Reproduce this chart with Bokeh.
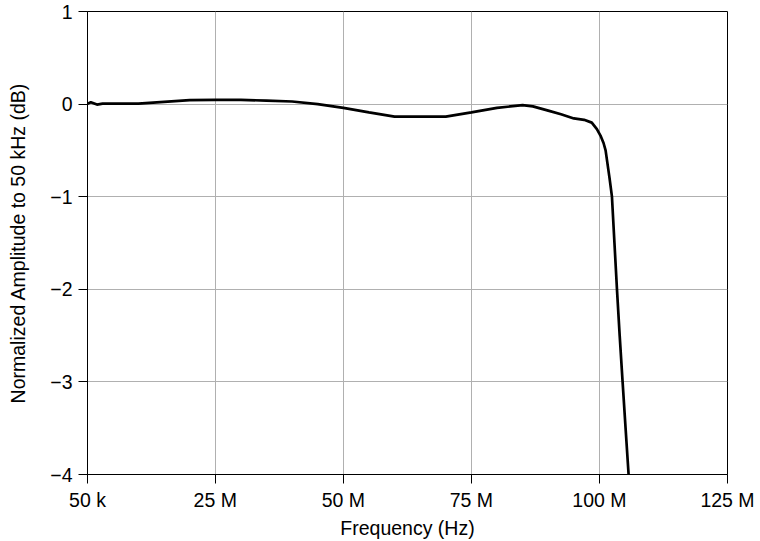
from bokeh.plotting import figure
from bokeh.models import Range1d, FixedTicker
from bokeh.embed import file_html
from bokeh.resources import INLINE

# Frequency in MHz, normalized amplitude in dB
freq_mhz = [0.05, 0.7, 1.9, 3.0, 5.0, 10.0, 15.0, 20.0, 25.0, 30.0, 35.0, 40.0,
            45.0, 50.0, 55.0, 60.0, 65.0, 70.0, 75.0, 80.0, 85.0, 87.0, 90.0,
            92.5, 95.0, 97.0, 98.5, 99.5, 100.2, 100.8, 101.2, 101.97, 102.44,
            102.93, 103.42, 103.95, 104.52, 105.1, 105.69]
amp_db = [0.005, 0.02, -0.005, 0.005, 0.005, 0.005, 0.025, 0.043, 0.045, 0.045,
          0.038, 0.028, 0.0, -0.04, -0.09, -0.135, -0.136, -0.136, -0.09, -0.04,
          -0.012, -0.025, -0.07, -0.11, -0.155, -0.17, -0.2, -0.27, -0.34, -0.42,
          -0.5, -0.8, -1.0, -1.5, -2.0, -2.5, -3.0, -3.5, -4.0]

freq_hz = [f * 1e6 for f in freq_mhz]

x_ticks = [50e3, 25e6, 50e6, 75e6, 100e6, 125e6]
x_tick_labels = ["50 k", "25 M", "50 M", "75 M", "100 M", "125 M"]
y_ticks = [-4, -3, -2, -1, 0, 1]
y_tick_labels = ["\u22124", "\u22123", "\u22122", "\u22121", "0", "1"]

FONT = "Liberation Sans"
FS = "19.5px"

p = figure(width=760, height=541, output_backend="svg", toolbar_location=None,
           x_range=Range1d(50e3, 125e6), y_range=Range1d(-4, 1),
           min_border_left=87, min_border_right=33, min_border_top=11,
           min_border_bottom=66)

p.line(freq_hz, amp_db, line_color="black", line_width=2.7)

p.outline_line_color = "black"
p.outline_line_width = 1
p.outline_line_alpha = 1

p.xaxis.ticker = FixedTicker(ticks=x_ticks)
p.yaxis.ticker = FixedTicker(ticks=y_ticks)
p.xaxis.major_label_overrides = {int(t): l for t, l in zip(x_ticks, x_tick_labels)}
p.yaxis.major_label_overrides = {t: l for t, l in zip(y_ticks, y_tick_labels)}

p.xaxis.axis_label = "Frequency (Hz)"
p.yaxis.axis_label = "Normalized Amplitude to 50 kHz (dB)"

for ax in (p.xaxis, p.yaxis):
    ax.axis_line_color = "black"
    ax.axis_line_width = 1
    ax.major_tick_line_color = "black"
    ax.major_tick_in = 0
    ax.major_tick_out = 9
    ax.minor_tick_line_color = None
    ax.major_label_text_font = FONT
    ax.major_label_text_font_size = FS
    ax.major_label_text_color = "black"
    ax.axis_label_text_font = FONT
    ax.axis_label_text_font_size = FS
    ax.axis_label_text_font_style = "normal"
    ax.axis_label_text_color = "black"

p.xaxis.major_label_standoff = 5
p.xaxis.axis_label_standoff = 3
p.yaxis.major_label_standoff = 6
p.yaxis.axis_label_standoff = 18

p.xgrid.ticker = FixedTicker(ticks=x_ticks)
p.ygrid.ticker = FixedTicker(ticks=y_ticks)
for g in (p.xgrid, p.ygrid):
    g.grid_line_color = "#b0b0b0"
    g.grid_line_width = 1
    g.grid_line_alpha = 1

p.background_fill_color = "white"
p.border_fill_color = "white"

open("out.html", "w").write(file_html(p, INLINE))
